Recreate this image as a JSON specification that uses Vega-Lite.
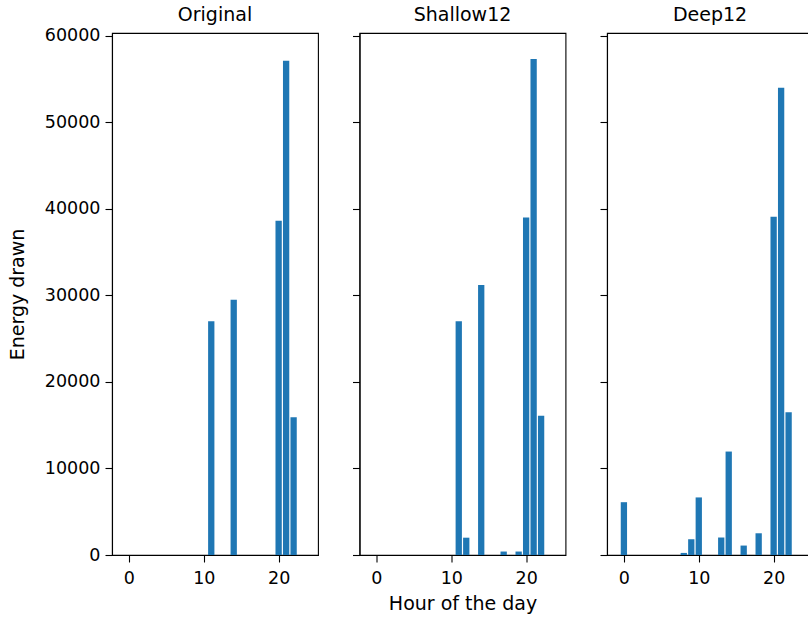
{
  "$schema": "https://vega.github.io/schema/vega-lite/v6.json",
  "padding": {"left": 7, "top": 5, "right": 0, "bottom": 5},
  "background": "white",
  "bounds": "flush",
  "spacing": 41.5,
  "config": {
    "font": "DejaVu Sans",
    "view": {"stroke": "black", "strokeWidth": 1.1},
    "axis": {
      "grid": false, "domainColor": "black", "tickColor": "black",
      "labelColor": "black", "titleColor": "black", "tickSize": 7,
      "labelFontSize": 17.5, "titleFontSize": 19, "titleFontWeight": "normal",
      "labelFont": "DejaVu Sans", "titleFont": "DejaVu Sans",
      "domainWidth": 1.1, "tickWidth": 1.1, "labelPadding": 5
    },
    "title": {"fontSize": 19, "fontWeight": "normal", "font": "DejaVu Sans", "color": "black", "offset": 8}
  },
  "data": {
    "values": [
      {"model": "Original", "hour": 11, "energy": 27000},
      {"model": "Original", "hour": 14, "energy": 29500},
      {"model": "Original", "hour": 20, "energy": 38600},
      {"model": "Original", "hour": 21, "energy": 57100},
      {"model": "Original", "hour": 22, "energy": 15900},
      {"model": "Shallow12", "hour": 11, "energy": 27000},
      {"model": "Shallow12", "hour": 12, "energy": 2000},
      {"model": "Shallow12", "hour": 14, "energy": 31200},
      {"model": "Shallow12", "hour": 17, "energy": 400},
      {"model": "Shallow12", "hour": 19, "energy": 400},
      {"model": "Shallow12", "hour": 20, "energy": 39000},
      {"model": "Shallow12", "hour": 21, "energy": 57300},
      {"model": "Shallow12", "hour": 22, "energy": 16100},
      {"model": "Deep12", "hour": 0, "energy": 6100},
      {"model": "Deep12", "hour": 8, "energy": 240},
      {"model": "Deep12", "hour": 9, "energy": 1820},
      {"model": "Deep12", "hour": 10, "energy": 6650},
      {"model": "Deep12", "hour": 13, "energy": 2020},
      {"model": "Deep12", "hour": 14, "energy": 11950},
      {"model": "Deep12", "hour": 16, "energy": 1090},
      {"model": "Deep12", "hour": 18, "energy": 2510},
      {"model": "Deep12", "hour": 20, "energy": 39070},
      {"model": "Deep12", "hour": 21, "energy": 53970},
      {"model": "Deep12", "hour": 22, "energy": 16480}
    ]
  },
  "hconcat": [
    {
      "title": {"text": "Original", "offset": 2},
      "width": 206, "height": 522,
      "transform": [{"filter": "datum.model == 'Original'"}],
      "mark": {"type": "bar", "width": 6.3, "color": "#1f77b4"},
      "encoding": {
        "x": {"field": "hour", "type": "quantitative",
              "scale": {"domain": [-1.59, 24.59], "nice": false, "zero": false},
              "axis": {"values": [0, 10, 20], "title": null, "labelPadding": 7}},
        "y": {"field": "energy", "type": "quantitative",
              "scale": {"domain": [0, 60300], "nice": false},
              "axis": {"values": [0, 10000, 20000, 30000, 40000, 50000, 60000], "format": "d", "title": "Energy drawn", "titlePadding": 17}}
      }
    },
    {
      "title": "Shallow12",
      "width": 206, "height": 522,
      "transform": [{"filter": "datum.model == 'Shallow12'"}],
      "mark": {"type": "bar", "width": 6.3, "color": "#1f77b4"},
      "encoding": {
        "x": {"field": "hour", "type": "quantitative",
              "scale": {"domain": [-1.59, 24.59], "nice": false, "zero": false},
              "axis": {"values": [0, 10, 20], "title": "Hour of the day", "titlePadding": 8, "labelPadding": 7}},
        "y": {"field": "energy", "type": "quantitative",
              "scale": {"domain": [0, 60300], "nice": false},
              "axis": {"values": [0, 10000, 20000, 30000, 40000, 50000, 60000], "labels": false, "title": null}}
      }
    },
    {
      "title": "Deep12",
      "width": 206, "height": 522,
      "transform": [{"filter": "datum.model == 'Deep12'"}],
      "mark": {"type": "bar", "width": 6.3, "color": "#1f77b4"},
      "encoding": {
        "x": {"field": "hour", "type": "quantitative",
              "scale": {"domain": [-1.59, 24.59], "nice": false, "zero": false},
              "axis": {"values": [0, 10, 20], "title": null, "labelPadding": 7}},
        "y": {"field": "energy", "type": "quantitative",
              "scale": {"domain": [0, 60300], "nice": false},
              "axis": {"values": [0, 10000, 20000, 30000, 40000, 50000, 60000], "labels": false, "title": null}}
      }
    }
  ]
}
